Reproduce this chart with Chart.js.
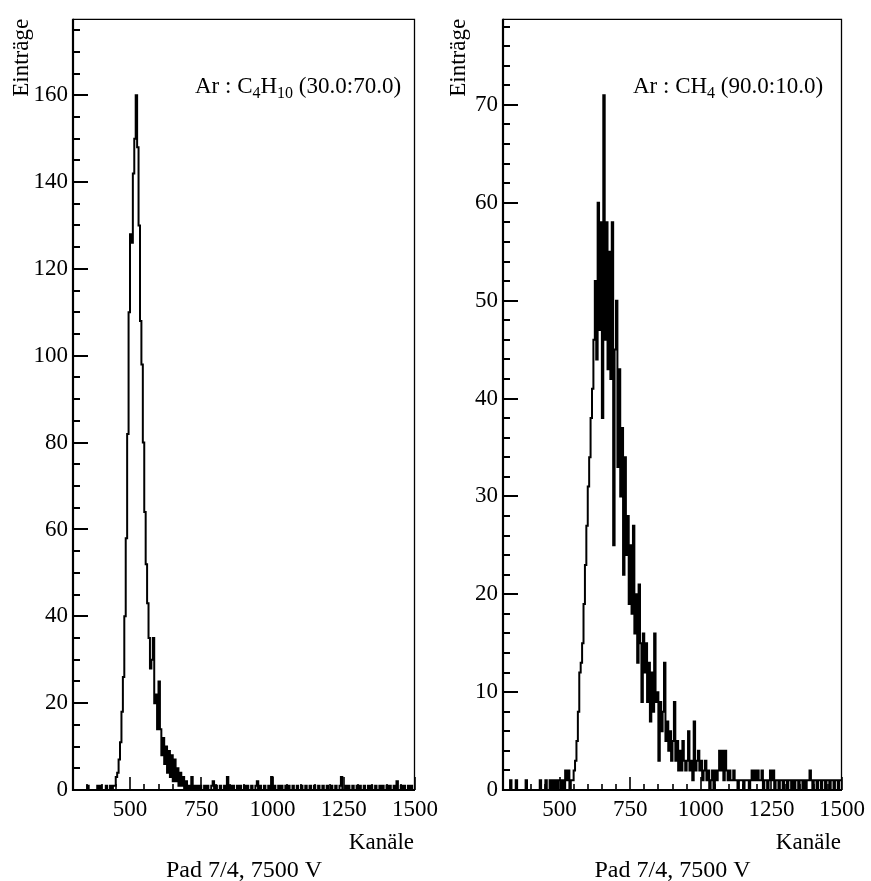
<!DOCTYPE html>
<html>
<head>
<meta charset="utf-8">
<script src="https://cdn.jsdelivr.net/npm/chart.js@4.4.0/dist/chart.umd.min.js"></script>
<style>
html,body{margin:0;padding:0;background:#fff;}
#wrap{position:relative;width:871px;height:881px;background:#fff;}
canvas{position:absolute;left:0;top:0;}
</style>
</head>
<body>
<div id="wrap">
<canvas id="cL" width="871" height="881"></canvas>
<canvas id="cR" width="871" height="881"></canvas>
</div>
<script>
// ---------- data ----------
const BIN_START = 300;     // first bin lower edge (Kanäle)
const BIN_WIDTH = 5;       // channels per bin
const X_MIN = 300, X_MAX = 1500;
const xTickValues = [500, 750, 1000, 1250, 1500];
const xMinorStep = 50;

const leftYTicks = [0, 20, 40, 60, 80, 100, 120, 140, 160];
const leftYMinorStep = 5;
const leftYMax = 177.6;

const rightYTicks = [0, 10, 20, 30, 40, 50, 60, 70];
const rightYMinorStep = 2;
const rightYMax = 78.8;

// Ar : C4H10 (30.0:70.0) — counts per 5-channel bin, 300..1495
const leftCounts = [
  0,0,0,0,0,0,0,0,0,0, 1,0,0,0,0,0,0,1,0,1,
  0,0,0,1,0,0,1,0,1,1, 3,4,7,11,18,26,40,58,82,110,
  128,126,142,150,160,148,130,108,98,80, 64,52,43,35,28,30,35,20,22,14,
  25,14,8,12,6,10,4,9,3,8, 2,7,2,5,1,4,1,3,0,2,
  0,1,0,3,0,1,0,1,0,1, 0,0,1,0,1,0,0,1,2,0,
  1,0,0,1,0,0,1,0,3,0, 1,0,1,0,0,1,0,1,0,0,
  1,0,1,0,0,1,0,0,1,2, 0,1,0,0,1,0,0,1,0,3,
  0,1,0,0,1,0,1,0,0,1, 0,1,0,0,1,0,0,1,0,0,
  1,0,0,1,0,0,1,0,0,1, 0,0,1,0,0,1,0,0,1,0,
  0,1,0,0,1,0,0,1,3,0, 0,1,0,1,0,0,1,0,0,1,
  0,1,0,0,1,0,0,1,0,1, 0,0,1,0,0,1,0,1,0,0,
  1,0,1,0,0,1,0,2,0,0, 1,0,1,0,0,1,0,1,0,0
];

// Ar : CH4 (90.0:10.0) — counts per 5-channel bin, 300..1495
const rightCounts = [
  0,0,0,0,0,1,0,0,0,1, 0,0,0,0,0,0,1,0,0,0,
  0,0,0,0,0,0,1,0,0,0, 1,0,0,1,0,1,0,1,0,1,
  1,0,1,0,2,1,2,0,1,1, 2,3,5,8,12,13,15,19,23,27,
  31,34,38,41,46,52,44,60,47,58, 38,71,46,58,43,55,42,58,25,45,
  50,33,43,30,37,22,34,24,28,19, 25,18,27,16,20,13,21,15,9,16,
  12,15,9,13,7,12,8,16,9,10, 3,9,6,8,13,5,7,4,6,3,
  5,9,3,5,2,4,2,5,3,2, 3,6,2,3,1,7,2,3,4,2,
  3,1,2,3,1,2,0,1,2,0, 2,1,2,4,2,4,1,4,2,1,
  2,1,1,2,1,1,0,1,1,1, 0,1,1,1,0,1,2,1,2,1,
  2,1,1,2,0,1,1,0,1,2, 1,2,0,1,1,0,1,1,0,1,
  1,0,1,1,0,1,0,1,1,0, 1,1,0,1,0,1,1,2,1,0,
  1,1,0,1,1,0,1,1,0,1, 1,0,1,1,0,1,1,0,1,1
];

const leftTitle  = [['Ar : C', false], ['4', true], ['H', false], ['10', true], [' (30.0:70.0)', false]];
const rightTitle = [['Ar : CH', false], ['4', true], [' (90.0:10.0)', false]];
const yTitle = 'Einträge';
const xTitle = 'Kanäle';
const bottomTitle = 'Pad 7/4, 7500 V';

// ---------- drawing ----------
const FONT = "'Liberation Serif','Times New Roman','DejaVu Serif',serif";

const decor = {
  id: 'decor',
  afterDraw(chart, args, o) {
    const ctx = chart.ctx, a = chart.chartArea;
    const xs = chart.scales.x, ys = chart.scales.y;
    ctx.save();
    ctx.strokeStyle = '#000';
    ctx.fillStyle = '#000';
    // frame: thin top/right, heavier left/bottom
    ctx.lineWidth = 1.3;
    ctx.beginPath();
    ctx.moveTo(a.left, a.top + 0.5); ctx.lineTo(a.right - 0.5, a.top + 0.5); ctx.lineTo(a.right - 0.5, a.bottom);
    ctx.stroke();
    ctx.lineWidth = 2.2;
    ctx.beginPath();
    ctx.moveTo(a.left, a.top); ctx.lineTo(a.left, a.bottom); ctx.lineTo(a.right, a.bottom);
    ctx.stroke();
    // inward y ticks
    ctx.lineWidth = 2;
    for (let v = 0; v <= ys.max; v += o.yMinor) {
      const py = Math.round(ys.getPixelForValue(v));
      const len = o.yTicks.includes(v) ? 15 : 7;
      ctx.beginPath(); ctx.moveTo(a.left, py); ctx.lineTo(a.left + len, py); ctx.stroke();
    }
    // inward x ticks
    ctx.lineWidth = 1.6;
    for (let v = X_MIN + xMinorStep; v <= X_MAX; v += xMinorStep) {
      const px = Math.round(xs.getPixelForValue(v));
      const len = xTickValues.includes(v) ? 13 : 6;
      ctx.beginPath(); ctx.moveTo(px, a.bottom); ctx.lineTo(px, a.bottom - len); ctx.stroke();
    }
    // gas label with subscripts
    let tx = a.left + o.titleOffset;
    for (const [t, sub] of o.title) {
      ctx.font = (sub ? '16px ' : '23px ') + FONT;
      ctx.textAlign = 'left';
      ctx.textBaseline = 'alphabetic';
      ctx.fillText(t, tx, sub ? 98 : 93);
      tx += ctx.measureText(t).width;
    }
    // y title (rotated)
    ctx.font = '23px ' + FONT;
    ctx.save();
    ctx.translate(a.left - o.yTitleGap, a.top);
    ctx.rotate(-Math.PI / 2);
    ctx.textAlign = 'right';
    ctx.textBaseline = 'alphabetic';
    ctx.fillText(yTitle, 0, 0);
    ctx.restore();
    // x title
    ctx.textAlign = 'right';
    ctx.textBaseline = 'alphabetic';
    ctx.fillText(xTitle, a.right - 1, 849);
    // bottom caption
    ctx.font = '24px ' + FONT;
    ctx.textAlign = 'center';
    ctx.fillText(bottomTitle, (a.left + a.right) / 2, 877);
    ctx.restore();
  }
};

function makeChart(id, counts, cfg) {
  const pts = counts.map((c, i) => ({ x: BIN_START + i * BIN_WIDTH, y: c }));
  pts.push({ x: X_MAX, y: counts[counts.length - 1] });
  return new Chart(document.getElementById(id), {
    type: 'line',
    data: {
      datasets: [{
        data: pts,
        borderColor: '#000',
        borderWidth: 2,
        pointRadius: 0,
        stepped: true,
        fill: false,
        tension: 0
      }]
    },
    options: {
      responsive: false,
      animation: false,
      devicePixelRatio: 1,
      parsing: false,
      layout: { padding: cfg.padding },
      plugins: {
        legend: { display: false },
        tooltip: { enabled: false },
        decor: {
          yTicks: cfg.yTicks,
          yMinor: cfg.yMinor,
          title: cfg.title,
          titleOffset: cfg.titleOffset,
          yTitleGap: cfg.yTitleGap
        }
      },
      scales: {
        x: {
          type: 'linear',
          min: X_MIN,
          max: X_MAX,
          grid: { display: false, drawTicks: false },
          border: { display: false },
          afterFit(s) { s.height = 91; },
          afterBuildTicks(s) { s.ticks = xTickValues.map(v => ({ value: v })); },
          ticks: {
            font: { family: FONT, size: 23 }, color: '#000', padding: 6, maxRotation: 0, autoSkip: false,
            callback: v => String(v)
          }
        },
        y: {
          type: 'linear',
          min: 0,
          max: cfg.yMax,
          grid: { display: false, drawTicks: false },
          border: { display: false },
          afterFit(s) { s.width = cfg.yWidth; },
          afterBuildTicks(s) { s.ticks = cfg.yTicks.map(v => ({ value: v })); },
          ticks: { font: { family: FONT, size: 23 }, color: '#000', padding: 5, autoSkip: false, callback: v => String(v) }
        }
      }
    },
    plugins: [decor]
  });
}

makeChart('cL', leftCounts, {
  padding: { left: 0, right: 456, top: 13, bottom: 0 },
  yWidth: 73, yMax: leftYMax, yTicks: leftYTicks, yMinor: leftYMinorStep,
  title: leftTitle, titleOffset: 122, yTitleGap: 45
});
makeChart('cR', rightCounts, {
  padding: { left: 435, right: 26, top: 13, bottom: 0 },
  yWidth: 68, yMax: rightYMax, yTicks: rightYTicks, yMinor: rightYMinorStep,
  title: rightTitle, titleOffset: 130, yTitleGap: 38
});
</script>
</body>
</html>
